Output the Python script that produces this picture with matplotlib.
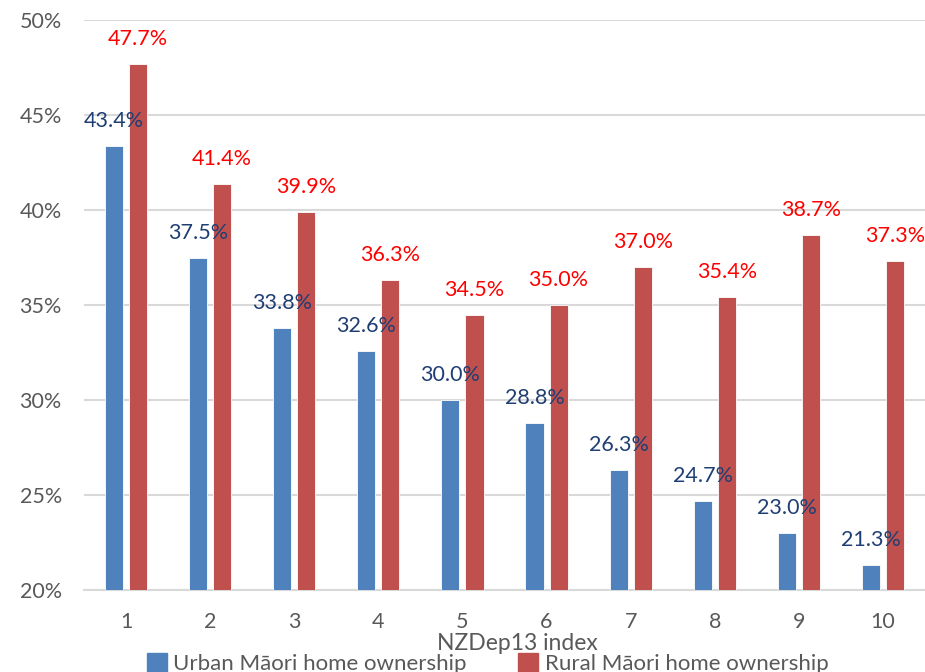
import matplotlib

matplotlib.use("Agg")
import matplotlib.pyplot as plt
import numpy as np
from matplotlib.patches import Patch

CATEGORIES = ["1", "2", "3", "4", "5", "6", "7", "8", "9", "10"]
URBAN = [43.4, 37.5, 33.8, 32.6, 30.0, 28.8, 26.3, 24.7, 23.0, 21.3]
RURAL = [47.7, 41.4, 39.9, 36.3, 34.5, 35.0, 37.0, 35.4, 38.7, 37.3]
SERIES = ["Urban Māori home ownership", "Rural Māori home ownership"]
YTICKS = [20, 25, 30, 35, 40, 45, 50]

BLUE, RED = "#4F81BD", "#C0504D"
BLUE_TXT, RED_TXT = "#1F3E73", "#FF0000"
GREY = "#595959"

plt.rcParams["font.family"] = ["Lato", "DejaVu Sans"]


def main():
    fig = plt.figure(figsize=(9.25, 6.72), dpi=100)
    ax = fig.add_axes([0.0908, 0.122, 0.9092, 0.848])

    x = np.arange(1, len(CATEGORIES) + 1)
    width = 0.215
    off = 0.143
    b1 = ax.bar(x - off, URBAN, width, color=BLUE, edgecolor="white", lw=0.6, zorder=3)
    b2 = ax.bar(x + off, RURAL, width, color=RED, edgecolor="white", lw=0.6, zorder=3)

    for bars, vals, col in [(b1, URBAN, BLUE_TXT), (b2, RURAL, RED_TXT)]:
        for b, v in zip(bars, vals):
            ax.annotate(f"{v:.1f}%", (b.get_x() + b.get_width() / 2, v),
                        xytext=(0, 18), textcoords="offset points",
                        ha="center", va="center", color=col, fontsize=15.5, zorder=4)

    ax.set_xlim(0.5, len(CATEGORIES) + 0.5)
    ax.set_ylim(20, 50)
    ax.set_yticks(YTICKS)
    ax.set_yticklabels([f"{t}%" for t in YTICKS])
    ax.set_xticks(x)
    ax.set_xticklabels(CATEGORIES)
    ax.tick_params(axis="y", length=0, pad=16, labelsize=15.5, labelcolor=GREY)
    ax.tick_params(axis="x", length=0, pad=16, labelsize=15.5, labelcolor=GREY)
    ax.grid(axis="y", color="#D9D9D9", lw=1.5, zorder=0)
    for s in ["left", "right", "top"]:
        ax.spines[s].set_visible(False)
    ax.spines["bottom"].set_color("#D9D9D9")
    ax.spines["bottom"].set_linewidth(1.5)

    ax.set_xlabel("NZDep13 index", fontsize=16.5, color=GREY, labelpad=0)
    ax.xaxis.set_label_coords(0.515, -0.075)

    handles = [Patch(color=BLUE), Patch(color=RED)]
    fig.legend(handles, SERIES, loc="center", bbox_to_anchor=(0.527, 0.012),
               ncol=2, frameon=False, fontsize=16, labelcolor=GREY,
               handlelength=0.9, handleheight=0.9, handletextpad=0.3,
               columnspacing=2.3)

    fig.savefig("out.png", dpi=100)
    plt.close(fig)


if __name__ == "__main__":
    main()
